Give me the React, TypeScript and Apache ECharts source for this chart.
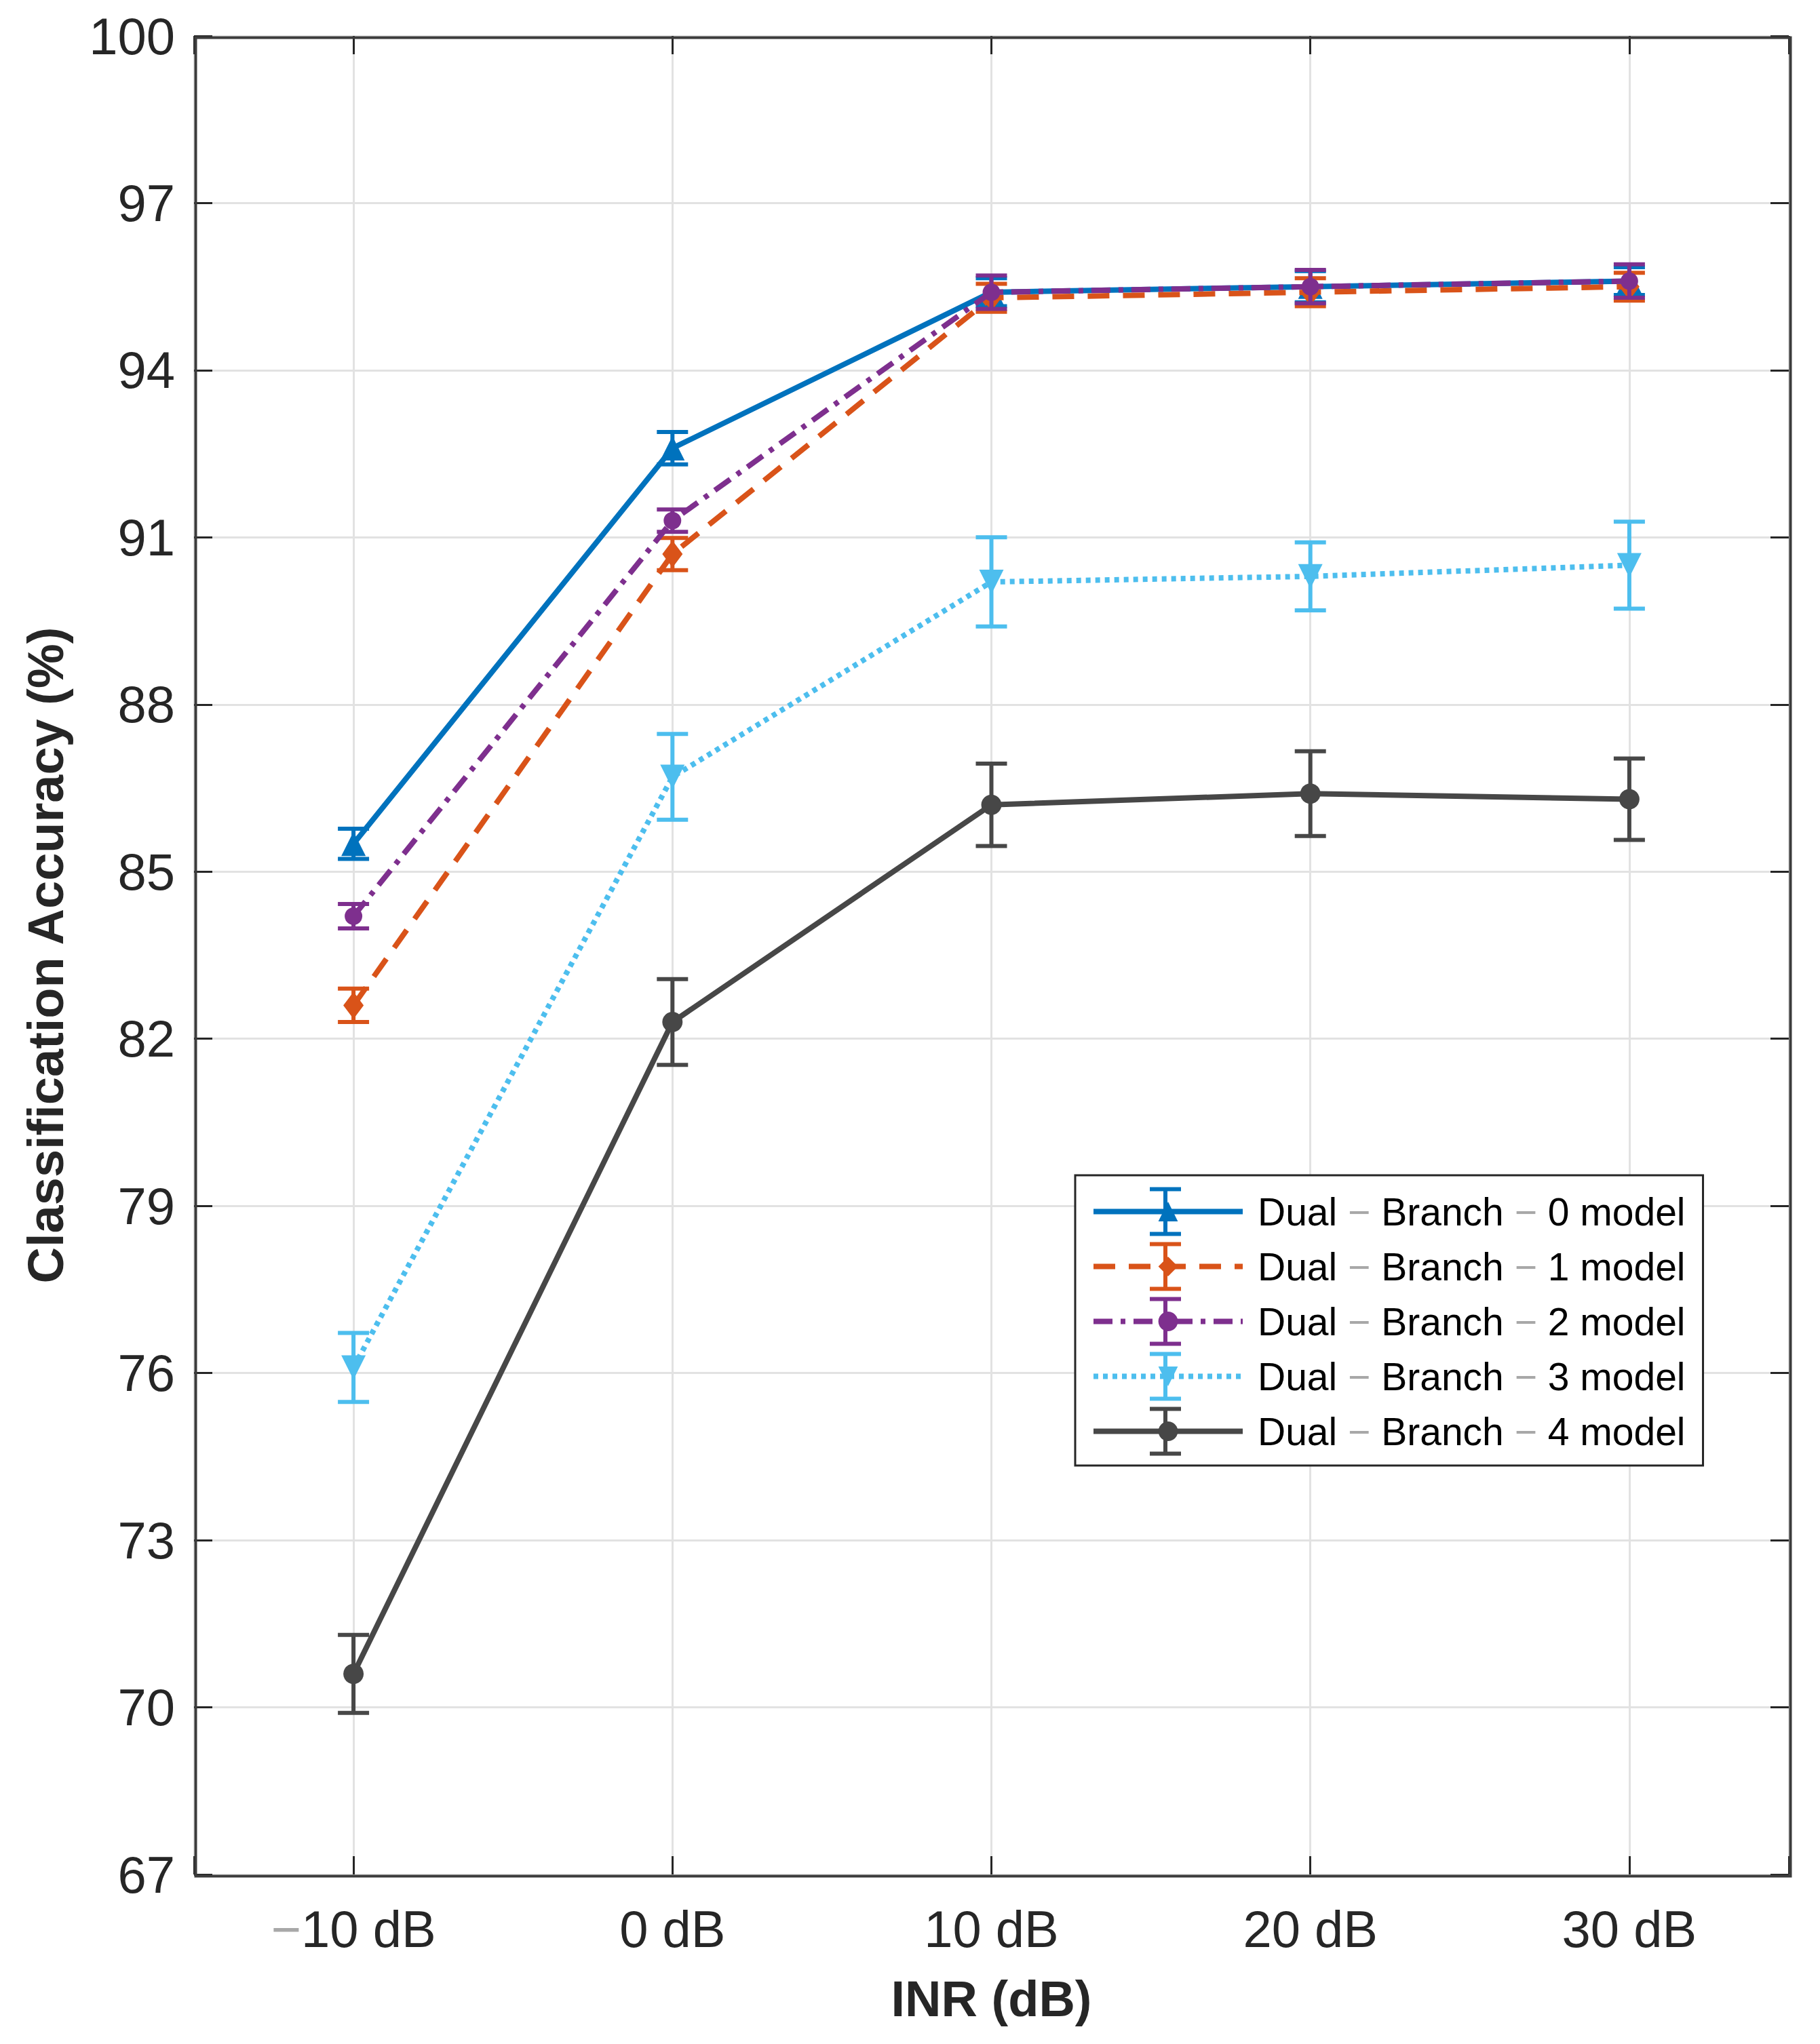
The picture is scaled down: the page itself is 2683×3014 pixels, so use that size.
import { useEffect, useRef } from 'react'
import * as echarts from 'echarts'

// INR levels (dB) on the x axis and their tick labels
const INR = [-10, 0, 10, 20, 30]
const X_LABELS = ['−10 dB', '0 dB', '10 dB', '20 dB', '30 dB']

const SERIES_NAMES = [
  'Dual−Branch−0 model',
  'Dual−Branch−1 model',
  'Dual−Branch−2 model',
  'Dual−Branch−3 model',
  'Dual−Branch−4 model'
]

// mean classification accuracy (%) per model
const ACC_0 = [85.5, 92.6, 95.4, 95.5, 95.6]
const ACC_1 = [82.6, 90.7, 95.3, 95.4, 95.5]
const ACC_2 = [84.2, 91.3, 95.4, 95.5, 95.6]
const ACC_3 = [76.1, 86.7, 90.2, 90.3, 90.5]
const ACC_4 = [70.6, 82.3, 86.2, 86.4, 86.3]

// half-length of the error bars
const ERR_0 = [0.27, 0.29, 0.25, 0.28, 0.25]
const ERR_1 = [0.3, 0.29, 0.25, 0.25, 0.25]
const ERR_2 = [0.22, 0.2, 0.3, 0.3, 0.3]
const ERR_3 = [0.62, 0.77, 0.8, 0.61, 0.78]
const ERR_4 = [0.7, 0.77, 0.74, 0.76, 0.73]

const COLORS = ['#0072BD', '#D95319', '#7E2F8E', '#4DBEEE', '#474747']

const W = 2683
const H = 3014
const GRID = { left: 286, right: 46, top: 53, bottom: 250 }
const FONT = "'Liberation Sans', Arial, Helvetica, sans-serif"
const TXT = '#262626'
const LINE_W = 8

const LEG = { left: 1585, top: 1733, padTop: 25, padRight: 26, padBottom: 22, padLeft: 23 }
const LEG_FONT = 57
const LEG_GAP = 24
const LEG_ICON_W = 220
const LEG_ICON_H = 36

const ErrorChart: React.FC = () => {
  const chartRef = useRef<HTMLDivElement>(null)

  useEffect(() => {
    if (!chartRef.current) return
    document.body.style.margin = '0'
    const chart = echarts.init(chartRef.current, undefined, { renderer: 'svg' })

    const accs = [ACC_0, ACC_1, ACC_2, ACC_3, ACC_4]
    const errs = [ERR_0, ERR_1, ERR_2, ERR_3, ERR_4]
    const symbols = ['triangle', 'diamond', 'circle', 'triangle', 'circle']
    const symbolSizes: any[] = [36, [30, 40], 26, 36, 30]
    const rotates = [0, 0, 0, 180, 0]
    const dashes: any[] = ['solid', [32, 20], [28, 12, 7, 12], [7, 7], 'solid']

    const lineSeries = SERIES_NAMES.map((name, k) => ({
      name,
      type: 'line',
      data: INR.map((x, i) => [x, accs[k][i]]),
      symbol: symbols[k],
      symbolSize: symbolSizes[k],
      symbolRotate: rotates[k],
      showAllSymbol: true,
      z: 3 + k,
      lineStyle: { color: COLORS[k], width: LINE_W, type: dashes[k] },
      itemStyle: { color: COLORS[k] }
    }))

    const errSeries = SERIES_NAMES.map((name, k) => ({
      name: name + ' err',
      type: 'custom',
      data: INR.map((x, i) => [x, accs[k][i] - errs[k][i], accs[k][i] + errs[k][i]]),
      encode: { x: 0, y: [1, 2] },
      z: 3 + k,
      renderItem: (params: any, api: any) => {
        const x = api.value(0)
        const top = api.coord([x, api.value(2)])
        const bot = api.coord([x, api.value(1)])
        const style = { stroke: COLORS[k], lineWidth: 6 }
        const hw = 23
        return {
          type: 'group',
          children: [
            { type: 'line', shape: { x1: top[0], y1: top[1], x2: bot[0], y2: bot[1] }, style },
            { type: 'line', shape: { x1: top[0] - hw, y1: top[1], x2: top[0] + hw, y2: top[1] }, style },
            { type: 'line', shape: { x1: bot[0] - hw, y1: bot[1], x2: bot[0] + hw, y2: bot[1] }, style }
          ]
        }
      }
    }))

    // error-bar glyphs drawn over the legend icons
    const rowH = LEG_FONT + LEG_GAP
    const legGlyphs: any[] = []
    SERIES_NAMES.forEach((_, k) => {
      const cx = LEG.left + LEG.padLeft + LEG_ICON_W / 2
      const cy = LEG.top + LEG.padTop + LEG_FONT / 2 + k * rowH
      const style = { stroke: COLORS[k], lineWidth: 6 }
      legGlyphs.push(
        { type: 'line', z: 100, silent: true, shape: { x1: cx, y1: cy - 33, x2: cx, y2: cy + 33 }, style },
        { type: 'line', z: 100, silent: true, shape: { x1: cx - 23, y1: cy - 33, x2: cx + 23, y2: cy - 33 }, style },
        { type: 'line', z: 100, silent: true, shape: { x1: cx - 23, y1: cy + 33, x2: cx + 23, y2: cy + 33 }, style }
      )
    })

    const tickStyle = { show: true, inside: true, length: 27, lineStyle: { color: TXT, width: 3 } }
    const noLine = { show: false, onZero: false }
    const xFormatter = (v: number) => {
      const i = INR.indexOf(v)
      return i < 0 ? '' : X_LABELS[i].replace('−', '{m|−}')
    }

    chart.setOption({
      animation: false,
      backgroundColor: '#ffffff',
      textStyle: { fontFamily: FONT },
      grid: { ...GRID, containLabel: false },
      legend: {
        data: SERIES_NAMES,
        orient: 'vertical',
        left: LEG.left,
        top: LEG.top,
        padding: [LEG.padTop, LEG.padRight, LEG.padBottom, LEG.padLeft],
        itemWidth: LEG_ICON_W,
        itemHeight: LEG_ICON_H,
        itemGap: LEG_GAP,
        backgroundColor: '#ffffff',
        borderColor: '#262626',
        borderWidth: 3,
        borderRadius: 0,
        z: 50,
        selectedMode: false,
        lineStyle: { width: LINE_W },
        formatter: (name: string) => name.split('−').join(' {m|−} '),
        textStyle: {
          fontFamily: FONT,
          fontSize: LEG_FONT,
          color: '#000000',
          padding: [0, 0, 0, 17],
          rich: { m: { fontFamily: FONT, fontSize: LEG_FONT, color: '#a8a8a8' } }
        }
      },
      xAxis: [
        {
          type: 'value',
          min: -15,
          max: 35,
          splitNumber: 5,
          minInterval: 10,
          maxInterval: 10,
          axisLine: noLine,
          axisTick: tickStyle,
          axisLabel: {
            formatter: xFormatter,
            fontFamily: FONT,
            fontSize: 76,
            color: TXT,
            margin: 42,
            rich: { m: { fontFamily: FONT, fontSize: 76, color: '#a8a8a8' } }
          },
          splitLine: { show: true, lineStyle: { color: '#e2e2e2', width: 3 } },
          name: 'INR (dB)',
          nameLocation: 'middle',
          nameGap: 146,
          nameTextStyle: { fontFamily: FONT, fontSize: 74, fontWeight: 'bold', color: TXT }
        },
        {
          type: 'value',
          position: 'top',
          min: -15,
          max: 35,
          splitNumber: 5,
          minInterval: 10,
          maxInterval: 10,
          axisLine: noLine,
          axisTick: tickStyle,
          axisLabel: { show: false },
          splitLine: { show: false }
        }
      ],
      yAxis: [
        {
          type: 'value',
          position: 'left',
          min: 67,
          max: 100,
          interval: 3,
          axisLine: noLine,
          axisTick: tickStyle,
          axisLabel: { fontFamily: FONT, fontSize: 76, color: TXT, margin: 28 },
          splitLine: { show: true, lineStyle: { color: '#e2e2e2', width: 3 } },
          name: 'Classification Accuracy (%)',
          nameLocation: 'middle',
          nameGap: 182,
          nameTextStyle: { fontFamily: FONT, fontSize: 74, fontWeight: 'bold', color: TXT }
        },
        {
          type: 'value',
          position: 'right',
          min: 67,
          max: 100,
          interval: 3,
          axisLine: noLine,
          axisTick: tickStyle,
          axisLabel: { show: false },
          splitLine: { show: false }
        }
      ],
      graphic: [
        {
          type: 'rect',
          left: GRID.left,
          top: GRID.top,
          z: 40,
          silent: true,
          shape: { width: W - GRID.left - GRID.right, height: H - GRID.top - GRID.bottom },
          style: { fill: 'none', stroke: '#3c3c3c', lineWidth: 4 }
        },
        ...legGlyphs
      ],
      series: [...lineSeries, ...errSeries]
    })

    return () => {
      chart.dispose()
    }
  }, [])

  return <div ref={chartRef} style={{ width: W + 'px', height: H + 'px' }} />
}

export default function App() {
  return <ErrorChart />
}
